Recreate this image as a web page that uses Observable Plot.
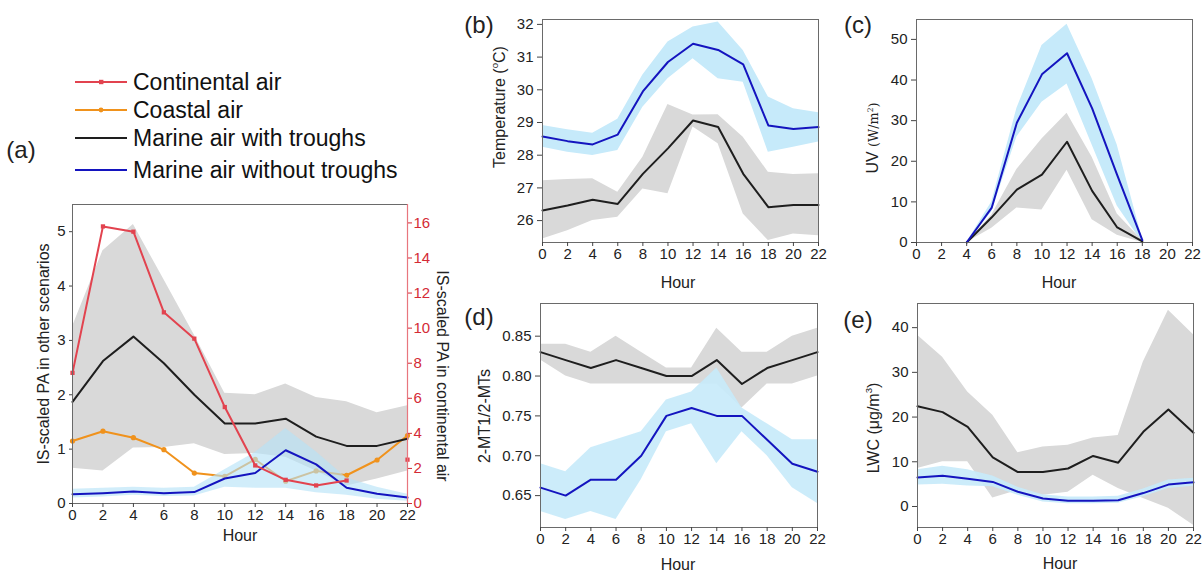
<!DOCTYPE html>
<html><head><meta charset="utf-8">
<script src="https://cdn.jsdelivr.net/npm/d3@7"></script>
<script src="https://cdn.jsdelivr.net/npm/@observablehq/plot@0.6"></script>
<style>
body{margin:0;background:#fff;font-family:"Liberation Sans",Arial,sans-serif;}
#wrap{position:relative;width:1202px;height:575px;overflow:hidden;background:#fff;}
.lbl{position:absolute;white-space:nowrap;transform:translate(-50%,-50%);color:#222;line-height:1;}
.rot{transform:translate(-50%,-50%) rotate(-90deg);}
.rot90{transform:translate(-50%,-50%) rotate(90deg);}
.unit{font-family:"DejaVu Serif","Liberation Serif",serif;font-size:0.8em;}
</style></head><body><div id="wrap"></div>
<script>
// ---------- data ----------
const hours = [0,2,4,6,8,10,12,14,16,18,20,22];

// (a) IS-scaled PA
const paMarineT   = [1.87,2.62,3.07,2.58,2.0,1.47,1.47,1.56,1.23,1.06,1.06,1.19];
const paMarineTLo = [0.65,0.6,1.02,1.03,1.1,0.9,0.92,0.85,0.6,0.32,0.45,0.6];
const paMarineTHi = [3.25,4.65,5.13,4.12,3.1,2.03,2.0,2.2,1.95,1.87,1.67,1.8];
const paMarineN   = [0.17,0.19,0.22,0.19,0.21,0.46,0.56,0.98,0.72,0.29,0.18,0.11];
const paMarineNLo = [0.1,0.12,0.15,0.13,0.14,0.3,0.28,0.28,0.2,0.15,0.08,0.04];
const paMarineNHi = [0.26,0.28,0.3,0.28,0.3,0.62,0.94,1.38,0.95,0.47,0.3,0.17];
const paCoastal   = [1.15,1.33,1.21,0.99,0.56,0.5,0.81,0.41,0.6,0.52,0.8,1.25];
const paContinental = [7.45,15.8,15.5,10.9,9.4,5.5,2.17,1.35,1.03,1.31,null,2.5]; // right axis
const paLeftTicks  = [0,1,2,3,4,5];
const paRightTicks = [0,2,4,6,8,10,12,14,16];

// (b) Temperature
const tBlue   = [28.57,28.43,28.33,28.63,29.95,30.85,31.41,31.22,30.78,28.91,28.8,28.86];
const tBlueLo = [28.24,28.09,27.99,28.14,29.47,30.34,30.95,30.34,30.23,28.09,28.24,28.4];
const tBlueHi = [28.91,28.78,28.67,29.1,30.45,31.46,31.92,32.07,31.2,29.78,29.42,29.3];
const tBlack   = [26.31,26.46,26.64,26.51,27.43,28.21,29.06,28.86,27.43,26.41,26.48,26.48];
const tBlackLo = [25.44,25.69,26.0,26.1,26.97,26.82,28.86,28.35,26.2,25.39,25.59,25.54];
const tBlackHi = [27.22,27.26,27.28,26.87,27.94,29.55,29.23,29.24,28.55,27.48,27.41,27.43];
const tTicks = [26,27,28,29,30,31,32];

// (c) UV
const uvHours   = [4,6,8,10,12,14,16,18];
const uvBlue    = [0,8.6,29.5,41.4,46.6,33,16.6,0.6];
const uvBlueLo  = [0,7.5,26,34.5,39,24,9,0];
const uvBlueHi  = [0,10,33,48.5,53.7,40.3,24,1];
const uvBlack   = [0,6.2,13,16.7,24.8,12.7,3.7,0.3];
const uvBlackLo = [0,3.5,8.5,8,17.8,5.6,1.8,0];
const uvBlackHi = [0,6.8,18,25.5,31.8,21,7,0.5];
const uvTicks = [0,10,20,30,40,50];

// (d) 2-MT1/2-MTs
const mtBlack   = [0.83,0.82,0.81,0.82,0.81,0.80,0.80,0.82,0.79,0.81,0.82,0.83];
const mtBlackLo = [0.82,0.80,0.79,0.79,0.79,0.79,0.79,0.79,0.76,0.79,0.79,0.80];
const mtBlackHi = [0.84,0.84,0.83,0.85,0.83,0.81,0.81,0.86,0.83,0.83,0.85,0.86];
const mtBlue    = [0.66,0.65,0.67,0.67,0.70,0.75,0.76,0.75,0.75,0.72,0.69,0.68];
const mtBlueLo  = [0.63,0.62,0.63,0.62,0.67,0.73,0.74,0.69,0.73,0.70,0.66,0.64];
const mtBlueHi  = [0.69,0.68,0.71,0.72,0.73,0.77,0.78,0.81,0.76,0.74,0.72,0.72];
const mtTicks = [0.65,0.70,0.75,0.80,0.85];

// (e) LWC
const lwcBlack   = [22.4,21.1,17.8,11.0,7.7,7.7,8.5,11.3,9.8,16.7,21.7,16.5];
const lwcBlackLo = [8.5,10,10,1.9,3.6,2.5,3.2,7,4,1.8,-0.4,-4.2];
const lwcBlackHi = [38.3,33.4,25.6,20.4,12.0,13.3,13.7,15.3,15.9,32.3,43.9,38.4];
const lwcBlue    = [6.5,6.9,6.2,5.5,3.3,1.8,1.3,1.3,1.4,3.0,4.9,5.4];
const lwcBlueLo  = [4.8,5.0,4.6,4.4,2.5,1.0,0.6,0.6,0.7,2.2,4.0,4.5];
const lwcBlueHi  = [8.2,9.0,8.2,6.8,4.3,2.6,2.1,2.1,2.3,3.9,5.9,6.3];
const lwcTicks = [0,10,20,30,40];

const legendNames = ["Continental air","Coastal air","Marine air with troughs","Marine air without troughs"];

// ---------- styles ----------
const FONT = '"Liberation Sans", Arial, sans-serif';
const RED = "#e2434f", RED_AX = "#d42a35", ORANGE = "#f0921c";
const BLUE = "#1414bf", BLACK = "#1e1e1e";
const GREY_BAND = "#d9d9d9", BLUE_BAND = "#c6eafa";

const rows = (xs, v, lo, hi) => xs.map((h,i)=>({h, v:v[i], lo: lo?lo[i]:null, hi: hi?hi[i]:null}));

const wrap = document.getElementById("wrap");
function place(el, left, top){ el.style.position="absolute"; el.style.left=left+"px"; el.style.top=top+"px"; wrap.appendChild(el); }
function label(text, cx, cy, size, cls){ const d=document.createElement("div"); d.className="lbl "+(cls||""); d.innerHTML=text; d.style.left=cx+"px"; d.style.top=cy+"px"; d.style.fontSize=size+"px"; wrap.appendChild(d); }

function basePlot({w,h,ml,mr,mt,mb,yDomain,yTicks,fmt,marks}){
  return Plot.plot({
    width:w, height:h, marginLeft:ml, marginRight:mr, marginTop:mt, marginBottom:mb,
    x:{domain:[0,22]},
    y:{domain:yDomain},
    style:{fontFamily:FONT, fontSize:"15px", background:"transparent", overflow:"visible", color:"#222"},
    marks:[
      ...marks,
      Plot.frame({stroke:"#6a6a6a", strokeWidth:1}),
      Plot.axisX(hours,{tickSize:4, tickPadding:2, label:null, stroke:"#444", tickFormat:d=>String(d)}),
      Plot.axisY(yTicks,{tickSize:5, tickPadding:4, label:null, tickFormat:fmt, stroke:"#444"})
    ]
  });
}

// ---------- panel (a) ----------
const K = 17.05/5.5;
const aT = rows(hours, paMarineT, paMarineTLo, paMarineTHi);
const aN = rows(hours, paMarineN, paMarineNLo, paMarineNHi);
const aC = rows(hours, paCoastal);
const aR = hours.map((h,i)=>({h, v: paContinental[i]==null? NaN : paContinental[i]/K}));
const plotA = Plot.plot({
  width:460, height:360, marginLeft:72, marginRight:53, marginTop:14, marginBottom:47,
  x:{domain:[0,22]}, y:{domain:[0,5.5]},
  style:{fontFamily:FONT, fontSize:"15px", background:"transparent", overflow:"visible", color:"#222"},
  marks:[
    Plot.areaY(aT,{x:"h", y1:"lo", y2:"hi", fill:GREY_BAND}),
    Plot.line(aC,{x:"h", y:"v", stroke:ORANGE, strokeWidth:2}),
    Plot.dot(aC,{x:"h", y:"v", fill:ORANGE, r:2.6}),
    Plot.areaY(aN,{x:"h", y1:"lo", y2:"hi", fill:"#b4e2f7", fillOpacity:0.62}),
    Plot.line(aT,{x:"h", y:"v", stroke:BLACK, strokeWidth:2}),
    Plot.line(aN,{x:"h", y:"v", stroke:BLUE, strokeWidth:2}),
    Plot.line(aR,{x:"h", y:"v", stroke:RED, strokeWidth:2}),
    Plot.dot(aR.filter(d=>!isNaN(d.v)),{x:"h", y:"v", fill:RED, symbol:"square", r:2.4}),
    Plot.frame({stroke:"#6a6a6a"}),
    Plot.ruleX([22],{stroke:"#e8767e", strokeWidth:1.2}),
    Plot.axisX(hours,{tickSize:4, tickPadding:2, label:null, stroke:"#444", tickFormat:d=>String(d)}),
    Plot.axisY(paLeftTicks,{tickSize:3, tickPadding:4, label:null, stroke:"#444", tickFormat:d=>String(d)}),
    Plot.axisY(paRightTicks.map(v=>v/K),{anchor:"right", tickSize:4, tickPadding:2, label:null, color:RED_AX, tickFormat:d=>String(Math.round(d*K))})
  ]
});
place(plotA, 0, 190);

// ---------- panel (b) ----------
const plotB = basePlot({w:370,h:295,ml:82,mr:12,mt:19,mb:53, yDomain:[25.33,32.15], yTicks:tTicks, fmt:d=>String(d),
  marks:[
    Plot.areaY(rows(hours,tBlue,tBlueLo,tBlueHi),{x:"h", y1:"lo", y2:"hi", fill:BLUE_BAND}),
    Plot.areaY(rows(hours,tBlack,tBlackLo,tBlackHi),{x:"h", y1:"lo", y2:"hi", fill:GREY_BAND}),
    Plot.line(rows(hours,tBlack),{x:"h", y:"v", stroke:BLACK, strokeWidth:2}),
    Plot.line(rows(hours,tBlue),{x:"h", y:"v", stroke:BLUE, strokeWidth:2})
  ]});
place(plotB, 460, 0);

// ---------- panel (c) ----------
const plotC = basePlot({w:372,h:295,ml:86,mr:10,mt:19,mb:53, yDomain:[0,54.9], yTicks:uvTicks, fmt:d=>String(d),
  marks:[
    Plot.areaY(rows(uvHours,uvBlue,uvBlueLo,uvBlueHi),{x:"h", y1:"lo", y2:"hi", fill:BLUE_BAND}),
    Plot.areaY(rows(uvHours,uvBlack,uvBlackLo,uvBlackHi),{x:"h", y1:"lo", y2:"hi", fill:GREY_BAND}),
    Plot.line(rows(uvHours,uvBlack),{x:"h", y:"v", stroke:BLACK, strokeWidth:2}),
    Plot.line(rows(uvHours,uvBlue),{x:"h", y:"v", stroke:BLUE, strokeWidth:2})
  ]});
place(plotC, 830, 0);

// ---------- panel (d) ----------
const plotD = basePlot({w:370,h:280,ml:80,mr:13,mt:8,mb:48, yDomain:[0.61,0.891], yTicks:mtTicks, fmt:d3.format(".2f"),
  marks:[
    Plot.areaY(rows(hours,mtBlack,mtBlackLo,mtBlackHi),{x:"h", y1:"lo", y2:"hi", fill:GREY_BAND}),
    Plot.areaY(rows(hours,mtBlue,mtBlueLo,mtBlueHi),{x:"h", y1:"lo", y2:"hi", fill:BLUE_BAND, fillOpacity:0.9}),
    Plot.line(rows(hours,mtBlack),{x:"h", y:"v", stroke:BLACK, strokeWidth:2}),
    Plot.line(rows(hours,mtBlue),{x:"h", y:"v", stroke:BLUE, strokeWidth:2})
  ]});
place(plotD, 460, 295);

// ---------- panel (e) ----------
const plotE = basePlot({w:372,h:280,ml:87,mr:9,mt:8,mb:48, yDomain:[-4.7,45.4], yTicks:lwcTicks, fmt:d=>String(d),
  marks:[
    Plot.areaY(rows(hours,lwcBlack,lwcBlackLo,lwcBlackHi),{x:"h", y1:"lo", y2:"hi", fill:GREY_BAND}),
    Plot.areaY(rows(hours,lwcBlue,lwcBlueLo,lwcBlueHi),{x:"h", y1:"lo", y2:"hi", fill:BLUE_BAND, fillOpacity:0.9}),
    Plot.line(rows(hours,lwcBlack),{x:"h", y:"v", stroke:BLACK, strokeWidth:2}),
    Plot.line(rows(hours,lwcBlue),{x:"h", y:"v", stroke:BLUE, strokeWidth:2})
  ]});
place(plotE, 830, 295);

// ---------- text ----------
label("(a)", 21, 150, 24);
label("(b)", 479, 25, 24);
label("(c)", 858, 25, 24);
label("(d)", 479, 317, 24);
label("(e)", 858, 320, 24);

label("Hour", 240, 536, 16);
label("Hour", 678, 283, 16);
label("Hour", 1059, 283, 16);
label("Hour", 678, 565, 16);
label("Hour", 1060, 564, 16);

label("IS-scaled PA in other scenarios", 44, 354, 16, "rot");
label("IS-scaled PA in continental air", 442, 376, 16, "rot90");
label("Temperature (<sup style='font-size:0.6em'>o</sup>C)", 499, 107, 16, "rot");
label("UV <span class='unit'>(W/m<sup style='font-size:0.6em'>2</sup>)</span>", 873, 138, 16, "rot");
label("2-MT1/2-MTs", 485, 416, 16, "rot");
label("LWC (μg/m<sup style='font-size:0.6em'>3</sup>)", 873, 428, 16, "rot");

// legend
const ns = "http://www.w3.org/2000/svg";
const lg = document.createElementNS(ns,"svg");
lg.setAttribute("width",430); lg.setAttribute("height",140);
const lgColors = [RED, ORANGE, BLACK, BLUE];
const lgY = [82,110,138,170];
legendNames.forEach((name,i)=>{
  const y = lgY[i]-55;
  const ln = document.createElementNS(ns,"line");
  ln.setAttribute("x1",75); ln.setAttribute("x2",127); ln.setAttribute("y1",y); ln.setAttribute("y2",y);
  ln.setAttribute("stroke",lgColors[i]); ln.setAttribute("stroke-width",2); lg.appendChild(ln);
  if(i===0){ const r=document.createElementNS(ns,"rect"); r.setAttribute("x",99); r.setAttribute("y",y-2.2); r.setAttribute("width",4.4); r.setAttribute("height",4.4); r.setAttribute("fill",RED); lg.appendChild(r); }
  if(i===1){ const c=document.createElementNS(ns,"circle"); c.setAttribute("cx",101); c.setAttribute("cy",y); c.setAttribute("r",2.4); c.setAttribute("fill",ORANGE); lg.appendChild(c); }
  const t = document.createElementNS(ns,"text");
  t.setAttribute("x",133); t.setAttribute("y",y); t.setAttribute("dy","0.35em");
  t.setAttribute("font-family",FONT); t.setAttribute("font-size",23); t.setAttribute("fill","#111");
  t.textContent = name; lg.appendChild(t);
});
place(lg, 0, 55);
</script>
</body></html>
